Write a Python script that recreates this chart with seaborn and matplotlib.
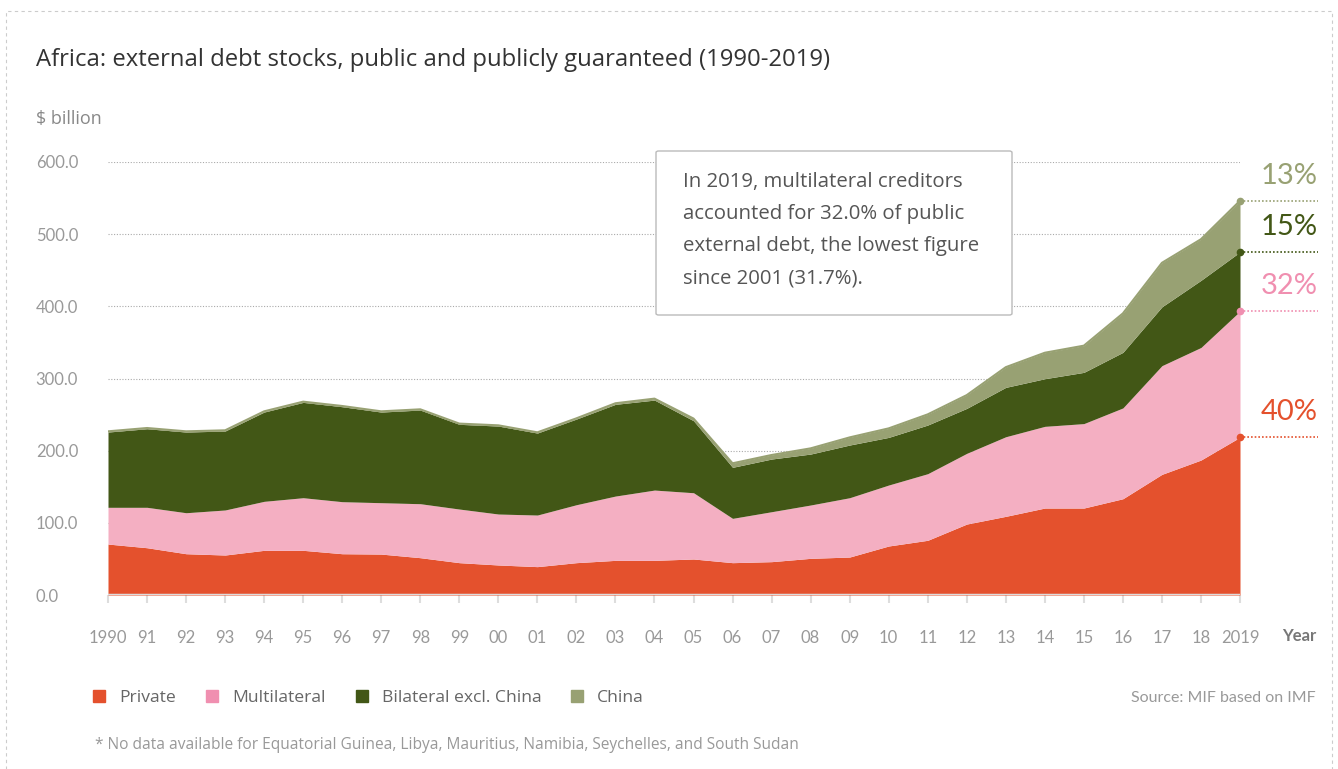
import pandas as pd
import seaborn as sns
import matplotlib.pyplot as plt
from matplotlib.patches import FancyBboxPatch, Rectangle
from matplotlib.lines import Line2D

# data ($ billion)
years = list(range(1990, 2020))
year_labels = ["1990", "91", "92", "93", "94", "95", "96", "97", "98", "99",
               "00", "01", "02", "03", "04", "05", "06", "07", "08", "09",
               "10", "11", "12", "13", "14", "15", "16", "17", "18", "2019"]
private = [70.6, 65.5, 57.2, 55.4, 61.9, 61.9, 57.2, 56.7, 51.7, 44.8,
           41.6, 39.3, 44.8, 48.0, 48.0, 49.9, 44.8, 46.2, 50.8, 52.6,
           67.9, 75.8, 98.3, 109.0, 120.5, 120.5, 133.4, 167.2, 187.0, 218.6]
multilateral = [50.9, 56.0, 56.8, 62.4, 67.9, 72.9, 72.1, 71.2, 74.8, 74.3,
                70.6, 71.5, 80.3, 89.1, 97.4, 91.8, 61.4, 69.2, 73.9, 82.2,
                84.5, 92.3, 98.0, 110.3, 113.2, 117.0, 125.8, 150.6, 156.0, 174.7]
bilateral = [104.3, 108.9, 111.8, 109.4, 123.7, 132.1, 131.6, 125.6, 129.8, 117.4,
             121.9, 113.6, 118.7, 127.1, 124.7, 99.8, 70.7, 73.0, 70.6, 73.0,
             66.0, 67.4, 62.3, 68.4, 66.0, 71.0, 77.0, 81.5, 93.0, 82.0]
china = [1.0, 1.0, 1.0, 1.0, 1.0, 1.0, 1.0, 1.0, 1.0, 1.0,
         1.0, 1.0, 1.0, 1.5, 2.0, 3.0, 5.6, 5.6, 7.9, 10.6,
         12.5, 14.8, 18.4, 28.0, 36.0, 37.0, 54.0, 61.0, 57.0, 71.0]

series_names = ["Private", "Multilateral", "Bilateral excl. China", "China"]
fill_colors = ["#e4512d", "#f4afc2", "#425716", "#98a173"]
label_colors = ["#e4512d", "#f08fb0", "#425716", "#98a173"]
y_ticks = [0, 100, 200, 300, 400, 500, 600]
y_tick_labels = ["0.0", "100.0", "200.0", "300.0", "400.0", "500.0", "600.0"]
callout_lines = ["In 2019, multilateral creditors",
                 "accounted for 32.0% of public",
                 "external debt, the lowest figure",
                 "since 2001 (31.7%)."]

df = pd.DataFrame({"year": years, "Private": private, "Multilateral": multilateral,
                   "Bilateral excl. China": bilateral, "China": china})
cum = df[series_names].cumsum(axis=1)
cum["year"] = df["year"]

sns.set_theme(style="white")
plt.rcParams['font.family'] = ['Lato', 'DejaVu Sans']
wide = ['Open Sans', 'DejaVu Sans']

W, H = 1338, 769
fig = plt.figure(figsize=(W / 100, H / 100), dpi=100)
ax = fig.add_axes([108 / W, 1 - 595 / H, (1240 - 108) / W, (595 - 162) / H])

ax.stackplot(df["year"], [df[s] for s in series_names], colors=fill_colors,
             linewidth=0, zorder=2)
sns.lineplot(data=cum, x="year", y="China", color=fill_colors[3], lw=1.5, ax=ax, zorder=3)

ax.set_xlim(1990, 2019)
ax.set_ylim(0, 600)
for s in ax.spines.values():
    s.set_visible(False)
ax.yaxis.grid(True, ls=(0, (1, 1.5)), color="#aaaaaa", lw=0.8, zorder=0)
ax.xaxis.grid(False)
ax.axhline(0, color="#dddddd", lw=2.5, zorder=4)

ax.set_yticks(y_ticks)
ax.set_yticklabels(y_tick_labels, ha="left", color="#999999", fontsize=12)
ax.tick_params(axis="y", length=0, pad=52)
ax.set_xticks(years)
ax.set_xticklabels(year_labels, color="#999999", fontsize=12)
ax.tick_params(axis="x", length=6, width=1.5, color="#dddddd", pad=19, bottom=True)
ax.set_xlabel("")
ax.set_ylabel("")

# end markers with dotted leaders and shares
total = cum[series_names[-1]].iloc[-1]
x_end = 2019 + (1318 - 1240) / 39.03
for i, s in enumerate(series_names):
    top = cum[s].iloc[-1]
    share = df[s].iloc[-1] / total * 100
    ax.plot([2019, x_end], [top, top], ls=(0, (1, 1.2)), color=label_colors[i],
            lw=1.2, clip_on=False, zorder=5)
    ax.plot(2019, top, "o", ms=4.5, color=label_colors[i], clip_on=False, zorder=6)
    ax.annotate(f"{share:.0f}%", xy=(x_end, top), xytext=(0, 18), textcoords="offset points",
                ha="right", va="center", fontsize=21, fontweight="normal",
                color=label_colors[i], annotation_clip=False)

# texts
fig.text(36 / W, 1 - 66 / H, "Africa: external debt stocks, public and publicly guaranteed (1990-2019)",
         ha="left", va="baseline", fontsize=17.2, color="#333333", family=wide)
fig.text(36 / W, 1 - 124 / H, "$ billion", ha="left", va="baseline", fontsize=13,
         color="#888888", family=wide)
fig.text(1316 / W, 1 - 636 / H, "Year", ha="right", va="center", fontsize=12,
         fontweight="bold", color="#777777")
fig.text(1316 / W, 1 - 698 / H, "Source: MIF based on IMF", ha="right", va="center",
         fontsize=11.5, color="#999999")
fig.text(95 / W, 1 - 745 / H,
         "* No data available for Equatorial Guinea, Libya, Mauritius, Namibia, Seychelles, and South Sudan",
         ha="left", va="center", fontsize=11.2, color="#999999", family=wide)

# callout box
box = FancyBboxPatch((656 / W, 1 - 315 / H), 356 / W, 164 / H, transform=fig.transFigure,
                     boxstyle="round,pad=0,rounding_size=0.002", fc="white", ec="#bbbbbb",
                     lw=1, zorder=10)
fig.patches.append(box)
for k, line in enumerate(callout_lines):
    fig.text(683 / W, 1 - (187 + 32 * k) / H, line, ha="left", va="baseline",
             fontsize=14.7, color="#555555", family=wide, zorder=11)

# legend
handles = [Line2D([0], [0], marker="s", ls="", ms=9, mfc=c, mec=c) for c in label_colors]
fig.legend(handles, series_names, loc="center left", bbox_to_anchor=(73 / W, 1 - 698 / H),
           ncol=4, frameon=False, prop={"family": wide, "size": 12.6}, labelcolor="#666666",
           handletextpad=0.55, columnspacing=1.45, handlelength=1.2)

# dashed outer frame
fig.patches.append(Rectangle((6 / W, -0.02), (1332 - 6) / W, 1 - 11 / H + 0.02,
                             transform=fig.transFigure, fill=False, ec="#cccccc",
                             lw=0.8, ls=(0, (3, 3))))

plt.savefig("out.png", dpi=100)
